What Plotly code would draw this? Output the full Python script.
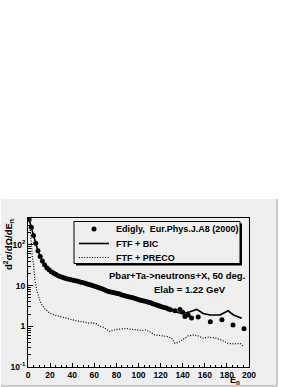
import plotly.graph_objects as go

# ---------------- data ----------------
data_E = [1, 3, 5, 7, 9, 11, 13, 15, 17, 19, 21, 23, 25, 27, 29, 31, 33, 35, 37, 39,
          41, 43, 45, 47, 49, 51, 53, 55, 57, 59, 61, 63, 65, 67, 69, 71, 73, 75, 77, 79,
          81, 83, 85, 87, 89, 91, 93, 95, 97, 99, 101, 103, 105, 107, 109, 111, 113, 115,
          117, 119, 121, 123, 125, 127, 129,
          133, 137.5, 140, 142, 145, 148, 154, 165, 175.5, 185.5, 195.5]
data_V = [420, 270, 170, 110, 72, 52, 40, 32.5, 27.5, 24.5, 22, 20.3, 19, 17.8, 16.8, 16, 15.3, 14.8, 14.3, 13.9,
          13.5, 13.1, 12.7, 12.3, 11.9, 11.5, 11.1, 10.7, 10.3, 9.9, 9.5, 9.1, 8.7, 8.3, 7.9, 7.5, 7.2, 7.0, 6.8, 6.6,
          6.4, 6.2, 5.9, 5.7, 5.5, 5.3, 5.2, 5.0, 4.8, 4.6, 4.4, 4.3, 4.2, 4.05, 3.9, 3.8, 3.6, 3.45,
          3.3, 3.15, 3.0, 2.9, 2.8, 2.65, 2.55,
          2.4, 2.6, 2.2, 1.75, 1.9, 1.6, 1.7, 1.3, 1.45, 1.08, 0.87]

bic_E = [0.5, 2, 4, 6, 8, 10, 12, 14, 16, 18, 20, 24, 28, 32, 36, 40, 44, 48, 52, 56,
         60, 64, 68, 72, 76, 80, 84, 88, 92, 96, 101, 107, 113, 119.5, 125.5, 131.5, 136,
         140.5, 146.6, 152.7, 158.6, 164.7, 173.8, 181, 186, 193.4]
bic_V = [470, 330, 205, 135, 88, 62, 46, 37, 31, 26.5, 23.5, 19.8, 17.3, 15.8, 14.8, 14, 13.2, 12.4, 11.6, 10.8,
         10, 9.2, 8.3, 7.5, 7.0, 6.6, 6.1, 5.6, 5.3, 4.9, 4.2, 3.9, 3.6, 3.3, 2.75, 2.5, 2.15,
         2.07, 2.28, 2.6, 2.07, 1.9, 1.9, 2.4, 1.9, 1.57]

preco_E = [1.8, 3, 4, 4.8, 6.3, 7.9, 9.5, 10.9, 13, 15.4, 18, 21.4, 25, 29, 33, 38, 42, 47, 51,
           54.6, 58, 62, 65, 68, 71, 74, 77, 80, 85, 89, 94, 98, 103, 107, 110, 115, 118.5,
           122.4, 126, 130, 133, 136, 139, 142, 145, 149.6, 154, 158.6, 163, 169, 175, 181,
           187, 192, 195]
preco_V = [310, 100, 47, 38, 13.7, 7.8, 5.25, 4.0, 3.3, 2.66, 2.3, 2.0, 1.85, 1.74, 1.65, 1.55, 1.42, 1.30, 1.28,
           1.2, 1.22, 1.15, 1.0, 0.95, 0.85, 0.74, 0.8, 0.84, 0.86, 0.88, 0.84, 0.81, 0.79, 0.82, 0.72, 0.61, 0.6,
           0.58, 0.56, 0.51, 0.38, 0.40, 0.46, 0.52, 0.58, 0.61, 0.58, 0.51, 0.54, 0.52, 0.46, 0.38,
           0.37, 0.38, 0.32]

x_ticks = [0, 20, 40, 60, 80, 100, 120, 140, 160, 180, 200]
y_tickvals = [0.1, 1, 10, 100]
y_ticktext = ["10<sup>-1</sup>", "1", "10", "10<sup>2</sup>"]
y_minor = [m * d for d in (0.1, 1, 10, 100) for m in range(2, 10) if m * d < 460]

legend_labels = ["Edigly,  Eur.Phys.J.A8 (2000)", "FTF + BIC", "FTF + PRECO"]

# ---------------- geometry helpers ----------------
W, H = 299, 387
L, R, T, B = 28, 249, 218, 367  # plot frame in px
def X(px):
    return (px - L) / (R - L)
def Y(py):
    return (B - py) / (B - T)

FONT = "Liberation Sans, Arial, Helvetica, sans-serif"
GREY = "#efefef"
DOT = "1px,1.6px"

fig = go.Figure()
fig.add_trace(go.Scatter(x=preco_E, y=preco_V, mode="lines", name=legend_labels[2],
                         line=dict(color="black", width=1.2, dash=DOT)))
fig.add_trace(go.Scatter(x=bic_E, y=bic_V, mode="lines", name=legend_labels[1],
                         line=dict(color="black", width=1.6)))
fig.add_trace(go.Scatter(x=data_E, y=data_V, mode="markers", name=legend_labels[0],
                         marker=dict(color="black", size=5, symbol="circle")))

shapes = []
# canvas
shapes.append(dict(type="rect", xref="paper", yref="paper", x0=X(1), x1=X(277), y0=Y(386), y1=Y(199),
                   fillcolor=GREY, line=dict(width=0), layer="below"))
shapes.append(dict(type="line", xref="paper", yref="paper", x0=X(277), x1=X(277), y0=Y(386), y1=Y(199),
                   line=dict(color="#a0a0a0", width=1)))
shapes.append(dict(type="line", xref="paper", yref="paper", x0=X(1), x1=X(277), y0=Y(386), y1=Y(386),
                   line=dict(color="#a0a0a0", width=1)))
# legend box with shadow
lx0, lx1, ly0, ly1 = 74, 240, 221.5, 263.5
shapes.append(dict(type="rect", xref="paper", yref="paper", x0=X(lx0 + 2), x1=X(lx1 + 2), y0=Y(ly1 + 2), y1=Y(ly0 + 2),
                   fillcolor="black", line=dict(width=0)))
shapes.append(dict(type="rect", xref="paper", yref="paper", x0=X(lx0), x1=X(lx1), y0=Y(ly1), y1=Y(ly0),
                   fillcolor=GREY, line=dict(color="black", width=1)))
rows = [229, 243.5, 257.5]
# legend samples
shapes.append(dict(type="circle", xref="paper", yref="paper", x0=X(91.5), x1=X(96.5), y0=Y(rows[0] + 2.5), y1=Y(rows[0] - 2.5),
                   fillcolor="black", line=dict(width=0)))
shapes.append(dict(type="line", xref="paper", yref="paper", x0=X(79), x1=X(109), y0=Y(rows[1]), y1=Y(rows[1]),
                   line=dict(color="black", width=1.6)))
shapes.append(dict(type="line", xref="paper", yref="paper", x0=X(79), x1=X(109), y0=Y(rows[2]), y1=Y(rows[2]),
                   line=dict(color="black", width=1.2, dash=DOT)))

annotations = []
for lab, ry in zip(legend_labels, rows):
    annotations.append(dict(text=lab, xref="paper", yref="paper", x=X(114), y=Y(ry), xanchor="left",
                            yanchor="middle", showarrow=False,
                            font=dict(family=FONT, size=9, color="black", weight="bold")))
annotations.append(dict(text="Pbar+Ta->neutrons+X, 50 deg.", xref="paper", yref="paper", x=X(177), y=Y(275.5),
                        xanchor="center", yanchor="middle", showarrow=False,
                        font=dict(family=FONT, size=9.5, color="black", weight="bold")))
annotations.append(dict(text="Elab = 1.22 GeV", xref="paper", yref="paper", x=X(190), y=Y(289),
                        xanchor="center", yanchor="middle", showarrow=False,
                        font=dict(family=FONT, size=9.5, color="black", weight="bold")))
annotations.append(dict(text="d<sup>2</sup>σ/dΩ/dE<sub>n</sub>", xref="paper", yref="paper", x=X(8), y=Y(245),
                        xanchor="center", yanchor="middle", textangle=-90, showarrow=False,
                        font=dict(family=FONT, size=9.5, color="black", weight="bold")))
annotations.append(dict(text="E<sub>n</sub>", xref="paper", yref="paper", x=X(235), y=Y(380.5),
                        xanchor="center", yanchor="middle", showarrow=False,
                        font=dict(family=FONT, size=9, color="black", weight="bold")))

fig.update_layout(
    width=W, height=H, autosize=False,
    margin=dict(l=L, r=W - R, t=T, b=H - B, pad=0),
    paper_bgcolor="white", plot_bgcolor=GREY,
    showlegend=False,
    shapes=shapes, annotations=annotations,
    font=dict(family=FONT, color="black"),
)
fig.update_xaxes(range=[0, 200], tickmode="array", tickvals=x_ticks, ticks="inside", ticklen=4,
                 tickcolor="black", showgrid=False, zeroline=False, showline=True, linecolor="black",
                 linewidth=1, mirror=True, automargin=False,
                 tickfont=dict(family=FONT, size=8.5, color="black", weight="bold"),
                 minor=dict(ticks="inside", ticklen=2, dtick=5, tick0=0, tickcolor="black", showgrid=False))
fig.update_yaxes(type="log", range=[-1, 2.66], tickmode="array", tickvals=y_tickvals, ticktext=y_ticktext,
                 ticks="inside", ticklen=5, tickcolor="black", showgrid=False, zeroline=False,
                 showline=True, linecolor="black", linewidth=1, mirror=True, automargin=False,
                 tickfont=dict(family=FONT, size=8.5, color="black", weight="bold"),
                 minor=dict(ticks="inside", ticklen=3, tickmode="array", tickvals=y_minor,
                            tickcolor="black", showgrid=False))

fig.write_html("out.html", config={"displayModeBar": False},
               post_script="document.body.style.margin='0';document.body.style.padding='0';")
